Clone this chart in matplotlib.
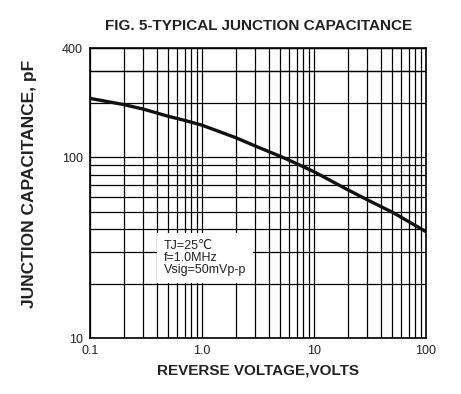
import matplotlib
matplotlib.use("Agg")
import matplotlib.pyplot as plt
from matplotlib.ticker import FixedLocator, NullFormatter

plt.rcParams["font.family"] = ["Liberation Sans", "DejaVu Sans"]

# curve
voltage = [0.1, 0.2, 0.3, 0.5, 0.7, 1.0, 2.0, 3.0, 5.0, 7.0, 10, 20, 30, 50, 70, 100]
capacitance = [211, 195, 184, 168, 159.5, 150, 128, 115, 101, 92, 83, 66, 58, 49.6, 44, 38.7]

x_ticks = [0.1, 1.0, 10, 100]
x_labels = ["0.1", "1.0", "10", "100"]
y_ticks = [10, 100, 400]
y_labels = ["10", "100", "400"]

x_grid = [m * d for d in (0.1, 1, 10) for m in range(1, 10)] + [100]
y_grid = [m * d for d in (10, 100) for m in range(1, 10)] + [300, 400]


def main():
    fig = plt.figure(figsize=(4.61, 3.94), dpi=100)
    ax = fig.add_axes([0.195, 0.142, 0.729, 0.736])

    ax.set_xscale("log")
    ax.set_yscale("log")
    ax.set_xlim(0.1, 100)
    ax.set_ylim(10, 400)

    for xv in x_grid:
        ax.axvline(xv, color="black", lw=0.9, zorder=1)
    for yv in y_grid:
        ax.axhline(yv, color="black", lw=0.9, zorder=1)

    ax.plot(voltage, capacitance, color="#111111", lw=2.4,
            solid_capstyle="butt", solid_joinstyle="round", zorder=3)

    ax.xaxis.set_major_locator(FixedLocator(x_ticks))
    ax.xaxis.set_minor_formatter(NullFormatter())
    ax.set_xticks(x_ticks, x_labels)
    ax.set_yticks(y_ticks, y_labels)
    ax.yaxis.set_minor_formatter(NullFormatter())
    ax.tick_params(which="both", length=0, labelsize=9,
                   colors="#222222", pad=5)

    for s in ax.spines.values():
        s.set_linewidth(1.2)

    ax.text(0.22, 0.276,
            "TJ=25\u2103\nf=1.0MHz\nVsig=50mVp-p",
            fontsize=9, color="#222222", linespacing=1.0,
            transform=ax.transAxes, va="center", ha="left", zorder=4,
            bbox=dict(facecolor="white", edgecolor="none", pad=5))

    fig.text(0.56, 0.934, "FIG. 5-TYPICAL JUNCTION CAPACITANCE",
             ha="center", va="center", fontsize=11, fontweight="bold",
             color="#222222")
    ax.set_xlabel("REVERSE VOLTAGE,VOLTS", fontsize=11, fontweight="bold",
                  color="#222222", labelpad=5)
    fig.text(0.065, 0.533, "JUNCTION CAPACITANCE, pF", rotation=90,
             ha="center", va="center", fontsize=12.5, fontweight="bold",
             color="#222222")

    fig.savefig("out.png", dpi=100)


if __name__ == "__main__":
    main()
